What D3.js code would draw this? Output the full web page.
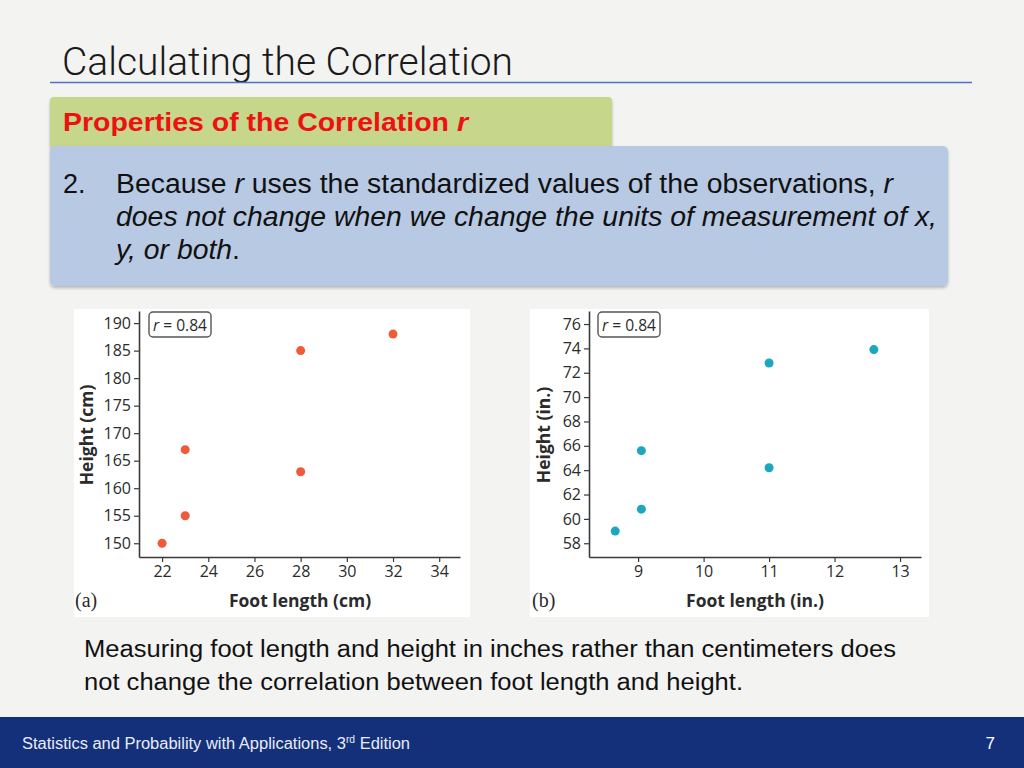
<!DOCTYPE html>
<html><head><meta charset="utf-8">
<script src="https://cdn.jsdelivr.net/npm/d3@7"></script>
<style>
html,body{margin:0;padding:0;background:#f3f3f2;}
svg{display:block;}
</style></head>
<body>
<svg id="slide" width="1024" height="768"></svg>
<script>
// ---- data ----
const footCm   = [22, 23, 23, 28, 28, 32];
const heightCm = [150, 155, 167, 163, 185, 188];
const footIn   = [8.65, 9.05, 9.05, 11.0, 11.0, 12.6];
const heightIn = [59.0, 60.8, 65.6, 64.2, 72.8, 73.9];
const xTicksCm = [22, 24, 26, 28, 30, 32, 34];
const yTicksCm = [150, 155, 160, 165, 170, 175, 180, 185, 190];
const xTicksIn = [9, 10, 11, 12, 13];
const yTicksIn = [58, 60, 62, 64, 66, 68, 70, 72, 74, 76];
const rLabel = "0.84";

const svg = d3.select("#slide");
const narrow = "'Liberation Sans',Arial,Helvetica,sans-serif";
const chartFont = "'Open Sans','Noto Sans',sans-serif";

// background
svg.append("rect").attr("width",1024).attr("height",768).attr("fill","#f3f3f2");

// title
svg.append("text").attr("x",62).attr("y",75)
  .attr("font-family","Roboto,'Liberation Sans',sans-serif").attr("font-weight",300)
  .attr("font-size",38).attr("fill","#1a1a1a")
  .attr("textLength",451).attr("lengthAdjust","spacingAndGlyphs")
  .text("Calculating the Correlation");
svg.append("line").attr("x1",50).attr("x2",972).attr("y1",82.5).attr("y2",82.5)
  .attr("stroke","#4f74c4").attr("stroke-width",1.3);

// shadows
const defs = svg.append("defs");
const f = defs.append("filter").attr("id","sh").attr("x","-5%").attr("y","-5%").attr("width","110%").attr("height","120%");
f.append("feDropShadow").attr("dx",0).attr("dy",2).attr("stdDeviation",1.5).attr("flood-color","#000").attr("flood-opacity",0.25);

// green header box
svg.append("rect").attr("x",50).attr("y",97).attr("width",562).attr("height",52).attr("rx",4)
  .attr("fill","#c6d68a").attr("filter","url(#sh)");
const ht = svg.append("text").attr("x",63).attr("y",131)
  .attr("font-family",narrow).attr("font-weight","bold").attr("font-size",25).attr("fill","#ee1111")
  .attr("textLength",405).attr("lengthAdjust","spacingAndGlyphs");
ht.append("tspan").text("Properties of the Correlation ");
ht.append("tspan").attr("font-style","italic").text("r");

// blue box
svg.append("rect").attr("x",50).attr("y",146).attr("width",898).attr("height",140).attr("rx",5)
  .attr("fill","#b7c9e3").attr("filter","url(#sh)");
const bodySize = 27;
svg.append("text").attr("x",63).attr("y",193).attr("font-family",narrow).attr("font-size",bodySize)
  .attr("fill","#111").text("2.");
const l1 = svg.append("text").attr("x",116).attr("y",193).attr("font-family",narrow).attr("font-size",bodySize)
  .attr("fill","#111").attr("textLength",777).attr("lengthAdjust","spacingAndGlyphs");
l1.append("tspan").text("Because ");
l1.append("tspan").attr("font-style","italic").text("r");
l1.append("tspan").text(" uses the standardized values of the observations, ");
l1.append("tspan").attr("font-style","italic").text("r");
svg.append("text").attr("x",116).attr("y",226).attr("font-family",narrow).attr("font-size",bodySize)
  .attr("font-style","italic").attr("fill","#111").attr("textLength",821).attr("lengthAdjust","spacingAndGlyphs")
  .text("does not change when we change the units of measurement of x,");
const l3 = svg.append("text").attr("x",116).attr("y",259).attr("font-family",narrow).attr("font-size",bodySize)
  .attr("fill","#111").attr("textLength",124).attr("lengthAdjust","spacingAndGlyphs");
l3.append("tspan").attr("font-style","italic").text("y, or both");
l3.append("tspan").text(".");

// ---- charts ----
function scatter(cfg){
  const g = svg.append("g");
  g.append("rect").attr("x",cfg.box[0]).attr("y",309).attr("width",cfg.box[1]-cfg.box[0]).attr("height",308).attr("fill","#ffffff");
  const x = d3.scaleLinear().domain(cfg.xd).range(cfg.xr);
  const y = d3.scaleLinear().domain(cfg.yd).range([557,311]);
  const xa = g.append("g").attr("transform","translate(0,557)")
    .call(d3.axisBottom(x).tickValues(cfg.xt).tickFormat(d3.format("d")).tickSize(5).tickSizeOuter(0).tickPadding(4));
  const ya = g.append("g").attr("transform",`translate(${cfg.xr[0]},0)`)
    .call(d3.axisLeft(y).tickValues(cfg.yt).tickFormat(d3.format("d")).tickSize(5).tickSizeOuter(0).tickPadding(3));
  [xa,ya].forEach(a=>{
    a.select(".domain").attr("stroke","#3a3a3a").attr("stroke-width",1.6);
    a.selectAll(".tick line").attr("stroke","#3a3a3a").attr("stroke-width",1.2);
    a.selectAll(".tick text").attr("font-family",chartFont).attr("font-size",16).attr("fill","#2b2b2b");
  });
  g.selectAll("circle.pt").data(cfg.xs.map((v,i)=>[v,cfg.ys[i]])).enter().append("circle")
    .attr("class","pt").attr("cx",d=>x(d[0])).attr("cy",d=>y(d[1])).attr("r",4.5).attr("fill",cfg.color);
  // r label
  g.append("rect").attr("x",cfg.rb).attr("y",312).attr("width",62).attr("height",25).attr("rx",4)
    .attr("fill","#fff").attr("stroke","#555").attr("stroke-width",1.4);
  const rt = g.append("text").attr("x",cfg.rb+31).attr("y",330.5).attr("text-anchor","middle")
    .attr("font-family",chartFont).attr("font-size",16).attr("fill","#2b2b2b")
    .attr("textLength",54).attr("lengthAdjust","spacingAndGlyphs");
  rt.append("tspan").attr("font-style","italic").text("r");
  rt.append("tspan").text(" = " + rLabel);
  // axis labels
  g.append("text").attr("x",cfg.xlabX).attr("y",607).attr("text-anchor","middle")
    .attr("font-family",chartFont).attr("font-weight","bold").attr("font-size",17.5).attr("fill","#2b2b2b")
    .text(cfg.xlab);
  g.append("text").attr("transform",`translate(${cfg.ylabX},435) rotate(-90)`).attr("text-anchor","middle")
    .attr("font-family",chartFont).attr("font-weight","bold").attr("font-size",17.5).attr("fill","#2b2b2b")
    .text(cfg.ylab);
  g.append("text").attr("x",cfg.tagX).attr("y",607)
    .attr("font-family","'Liberation Serif','DejaVu Serif',serif").attr("font-size",20).attr("fill","#2b2b2b")
    .text(cfg.tag);
}

scatter({box:[74,470], xd:[21,34.9], xr:[139,460], yd:[147.5,192.2],
  xt:xTicksCm, yt:yTicksCm, xs:footCm, ys:heightCm, color:"#ef5a38",
  rb:149, xlabX:300, xlab:"Foot length (cm)", ylabX:93, ylab:"Height (cm)", tagX:75, tag:"(a)"});
scatter({box:[530,929], xd:[8.25,13.32], xr:[589,921], yd:[56.87,77.07],
  xt:xTicksIn, yt:yTicksIn, xs:footIn, ys:heightIn, color:"#1ba7bf",
  rb:598, xlabX:755, xlab:"Foot length (in.)", ylabX:550, ylab:"Height (in.)", tagX:532, tag:"(b)"});

// caption
[["Measuring foot length and height in inches rather than centimeters does",657,812],
 ["not change the correlation between foot length and height.",690,659]].forEach(c=>{
  svg.append("text").attr("x",84).attr("y",c[1]).attr("font-family",narrow).attr("font-size",23)
    .attr("fill","#111").attr("textLength",c[2]).attr("lengthAdjust","spacingAndGlyphs").text(c[0]);
});

// footer
svg.append("rect").attr("x",0).attr("y",717).attr("width",1024).attr("height",51).attr("fill","#14307a");
const ft = svg.append("text").attr("x",22).attr("y",749).attr("font-family",narrow).attr("font-size",16)
  .attr("fill","#e8ecf5").attr("textLength",388).attr("lengthAdjust","spacingAndGlyphs");
ft.append("tspan").text("Statistics and Probability with Applications, 3");
ft.append("tspan").attr("font-size",10).attr("dy",-6).text("rd");
ft.append("tspan").attr("dy",6).text(" Edition");
svg.append("text").attr("x",995).attr("y",749).attr("text-anchor","end").attr("font-family",narrow)
  .attr("font-size",17).attr("fill","#ffffff").text("7");
</script>
</body></html>
